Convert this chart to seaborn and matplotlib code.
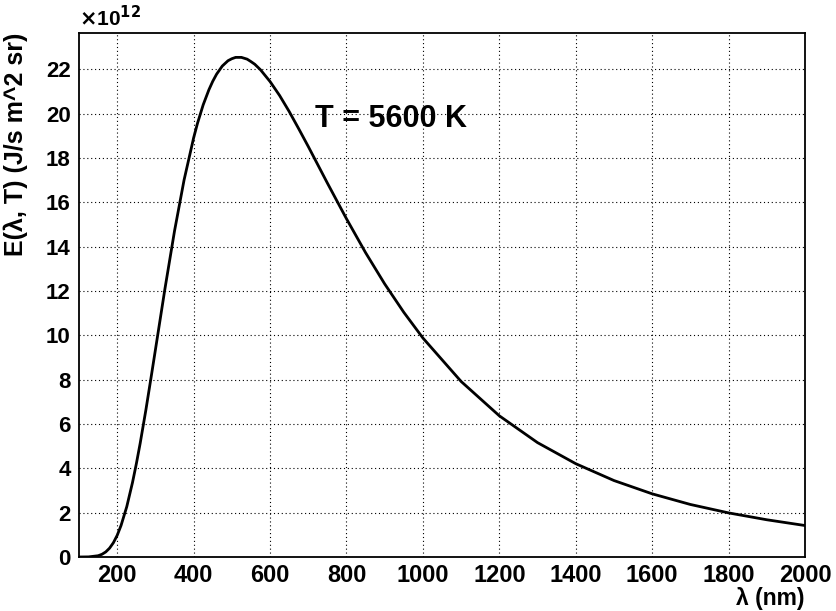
import numpy as np
import pandas as pd
import seaborn as sns
import matplotlib.pyplot as plt
from matplotlib.ticker import MultipleLocator

################################################################################
# spectral radiance, in units of 1e12 J/s m^2 sr
wavelength = [100, 125, 150, 160, 170, 180, 190, 200, 210, 225, 240, 250,
              260, 275, 290, 300, 325, 350, 375, 400, 410, 425, 440, 450,
              460, 475, 490, 500, 510, 525, 540, 550, 560, 575, 600, 625,
              650, 675, 700, 750, 800, 850, 900, 950, 1000, 1100, 1200,
              1300, 1400, 1500, 1600, 1700, 1800, 1900, 2000]
radiance = [0.0, 0.005, 0.057, 0.121, 0.229, 0.399, 0.644, 0.98, 1.42,
            2.27, 3.36, 4.20, 5.12, 6.63, 8.25, 9.35, 12.11, 14.71, 17.01,
            18.91, 19.56, 20.40, 21.08, 21.46, 21.78, 22.15, 22.39, 22.48,
            22.54, 22.54, 22.46, 22.35, 22.23, 21.98, 21.45, 20.82, 20.10,
            19.32, 18.52, 16.87, 15.26, 13.73, 12.32, 11.04, 9.88, 7.92,
            6.37, 5.16, 4.21, 3.45, 2.85, 2.37, 1.99, 1.68, 1.42]
temperature_label = 'T = 5600 K'

################################################################################
sns.set_style('white')
plt.rcParams['font.family'] = ['Liberation Sans', 'DejaVu Sans']
plt.rcParams['font.weight'] = 'bold'
# seaborn greys the text, ROOT draws it plain black
for key in ('text.color', 'axes.labelcolor', 'xtick.color', 'ytick.color'):
    plt.rcParams[key] = 'black'

df = pd.DataFrame({'wavelength': wavelength, 'radiance': radiance})

fig = plt.figure(figsize=(8.37, 6.11), dpi=100)
ax = fig.add_axes([79 / 837, 1 - 557 / 611, 726 / 837, 524 / 611])

sns.lineplot(data=df, x='wavelength', y='radiance', ax=ax,
             color='black', linewidth=2)

ax.set_xlim(100, 2000)
ax.set_ylim(0, 23.64)

ax.xaxis.set_major_locator(MultipleLocator(200))
ax.xaxis.set_minor_locator(MultipleLocator(50))
ax.yaxis.set_major_locator(MultipleLocator(2))
ax.yaxis.set_minor_locator(MultipleLocator(0.5))

ax.grid(True, which='major', color='black', linestyle=(0, (1, 2.5)),
        linewidth=0.8)

ax.tick_params(axis='x', which='major', direction='in', length=10.5,
               width=1, labelsize=17, pad=5, top=False)
ax.tick_params(axis='x', which='minor', direction='in', length=5.3,
               width=1, top=False)
ax.tick_params(axis='y', which='major', direction='in', length=15,
               width=1, labelsize=16, pad=6, right=False)
ax.tick_params(axis='y', which='minor', direction='in', length=8,
               width=1, right=False)
for lbl in ax.get_xticklabels() + ax.get_yticklabels():
    lbl.set_fontweight('bold')

for sp in ax.spines.values():
    sp.set_color('black')
    sp.set_linewidth(1.3)

ax.set_xlabel('λ (nm)', fontsize=16.5, fontweight='bold', loc='right')
ax.xaxis.set_label_coords(1.0, -0.058)
ax.set_ylabel('E(λ, T) (J/s m^2 sr)', fontsize=18, fontweight='bold',
              loc='top')
ax.yaxis.set_label_coords(-0.07, 1.0)

ax.text(0.0, 1.005, r'$\times$10$^{12}$', transform=ax.transAxes,
        fontsize=15, ha='left', va='bottom')

ax.text(718, 19.41, temperature_label, fontsize=22, fontweight='bold',
        ha='left', va='baseline')

fig.savefig('out.png', dpi=100)
